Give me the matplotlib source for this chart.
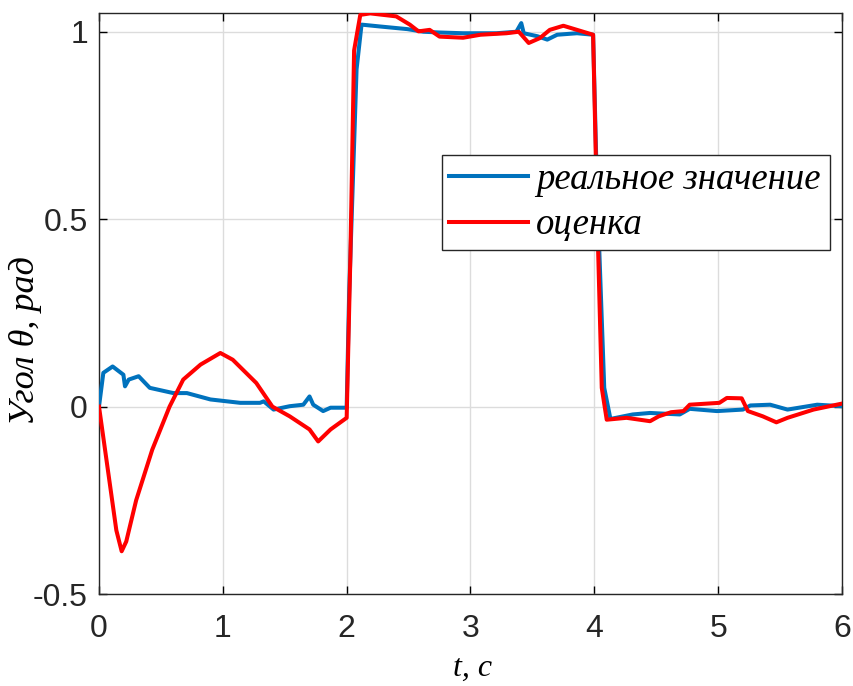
import matplotlib
matplotlib.use("Agg")
import matplotlib.pyplot as plt

# --- data ---
t_real = [0.0, 0.035, 0.11, 0.197, 0.21, 0.24, 0.32, 0.41, 0.60, 0.71, 0.90, 1.14, 1.30, 1.33, 1.41,
          1.54, 1.65, 1.70, 1.73, 1.81, 1.87, 2.0, 2.02, 2.08, 2.12, 2.27, 2.49, 2.62, 2.75, 2.94,
          3.21, 3.37, 3.41, 3.43, 3.54, 3.62, 3.70, 3.86, 3.99, 4.02, 4.08, 4.13, 4.31, 4.45, 4.69,
          4.77, 4.99, 5.20, 5.26, 5.42, 5.56, 5.80, 6.0]
y_real = [0.0, 0.09, 0.107, 0.085, 0.054, 0.072, 0.081, 0.05, 0.036, 0.036, 0.019, 0.010, 0.010, 0.014, -0.008,
          0.001, 0.005, 0.027, 0.005, -0.012, -0.003, -0.003, 0.30, 0.90, 1.019, 1.014, 1.007, 1.0, 0.998, 0.996,
          0.996, 1.0, 1.023, 0.996, 0.988, 0.979, 0.992, 0.996, 0.992, 0.60, 0.05, -0.033, -0.021, -0.017, -0.021,
          -0.006, -0.012, -0.008, 0.003, 0.005, -0.008, 0.005, 0.001]

t_est = [0.0, 0.14, 0.183, 0.22, 0.30, 0.43, 0.57, 0.68, 0.82, 0.98, 1.08, 1.27, 1.40, 1.54, 1.70, 1.77, 1.87,
         2.0, 2.03, 2.06, 2.11, 2.19, 2.40, 2.51, 2.58, 2.67, 2.75, 2.94, 3.08, 3.29, 3.39, 3.47,
         3.56, 3.64, 3.75, 3.86, 3.99, 4.02, 4.06, 4.10, 4.26, 4.45, 4.52, 4.62, 4.72, 4.77, 5.01,
         5.07, 5.19, 5.24, 5.36, 5.47, 5.56, 5.77, 6.0]
y_est = [0.0, -0.33, -0.386, -0.36, -0.25, -0.115, 0.0, 0.072, 0.112, 0.143, 0.125, 0.063, 0.0, -0.026, -0.061, -0.093, -0.061,
         -0.03, 0.40, 0.95, 1.045, 1.049, 1.041, 1.019, 1.001, 1.005, 0.987, 0.984, 0.992, 0.996, 1.0, 0.97,
         0.983, 1.005, 1.016, 1.005, 0.992, 0.55, 0.05, -0.035, -0.030, -0.039, -0.026, -0.015, -0.012, 0.005, 0.01,
         0.023, 0.022, -0.012, -0.026, -0.042, -0.03, -0.008, 0.008]

x_ticks = [0, 1, 2, 3, 4, 5, 6]
y_ticks = [-0.5, 0, 0.5, 1]
y_tick_labels = ['-0.5', '0', '0.5', '1']
legend_labels = ['реальное значение', 'оценка']

W, H = 854, 686
fig = plt.figure(figsize=(W / 100, H / 100), dpi=100)
L, R, T, B = 99, 842, 13, 594
ax = fig.add_axes([L / W, 1 - B / H, (R - L) / W, (B - T) / H])

ax.plot(t_real, y_real, color='#0072BD', lw=2.9, label=legend_labels[0], zorder=3)
ax.plot(t_est, y_est, color='#FF0000', lw=2.9, label=legend_labels[1], zorder=4)

ax.set_xlim(0, 6)
ax.set_ylim(-0.5, 1.05)
ax.set_xticks(x_ticks)
ax.set_yticks(y_ticks)
ax.set_yticklabels(y_tick_labels)
ax.grid(True, color='#dcdcdc', lw=1.0)
ax.set_axisbelow(True)
ax.tick_params(direction='in', top=True, right=True, length=6, width=1, labelsize=23)
ax.tick_params(axis='x', pad=14.5)
ax.tick_params(axis='y', pad=8)
for lab in ax.get_xticklabels() + ax.get_yticklabels():
    lab.set_family('Liberation Sans')
    lab.set_color('#262626')
for s in ax.spines.values():
    s.set_color('#262626')
    s.set_linewidth(1.0)

ax.set_xlabel('t, c', family='Liberation Serif', style='italic', fontsize=23)
ax.xaxis.set_label_coords(0.503, (B - 654) / (B - T))
ax.set_ylabel('Угол θ, рад', family='Liberation Serif', style='italic', fontsize=26)
ax.yaxis.set_label_coords((42 - L) / (R - L), (B - 341) / (B - T))

bx0 = (442 - L) / (R - L)
bx1 = (830 - L) / (R - L)
by1 = (B - 155) / (B - T)
by0 = (B - 245) / (B - T)
leg = ax.legend(loc='upper left', bbox_to_anchor=(bx0, by0, bx1 - bx0, by1 - by0), mode='expand',
                prop={'family': 'Liberation Serif', 'style': 'italic', 'size': 26.5},
                frameon=True, fancybox=False, edgecolor='#262626', framealpha=1,
                handlelength=2.15, handletextpad=0.2, borderpad=0.2, labelspacing=0.3,
                borderaxespad=0)
leg.get_frame().set_linewidth(1.0)
leg.set_zorder(10)

fig.savefig('out.png', dpi=100)
